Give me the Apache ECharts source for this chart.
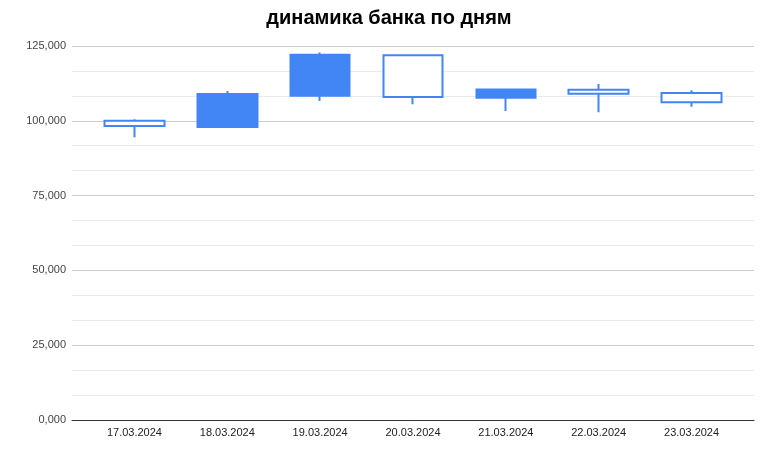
<!DOCTYPE html>
<html>
<head>
<meta charset="UTF-8">
<title>динамика банка по дням</title>
<script type="text/javascript" src="https://cdn.jsdelivr.net/npm/echarts@6/dist/echarts.min.js"></script>
<style>
  html, body { margin: 0; padding: 0; background: #fff; }
</style>
</head>
<body>
    <div id="main" style="width: 778px;height:455px;"></div>
    <script type="text/javascript">
        // data: [open, close, low, high]
        var days = ['17.03.2024', '18.03.2024', '19.03.2024', '20.03.2024', '21.03.2024', '22.03.2024', '23.03.2024'];
        var opens  = [98250, 108950, 122100, 107950, 110500, 109050, 106200];
        var closes = [100050, 97950, 108400, 121900, 107700, 110400, 109300];
        var lows   = [94500, 97700, 106600, 105500, 103300, 102850, 104700];
        var highs  = [100500, 110000, 122850, 122250, 110550, 112300, 110200];
        var yTickLabels = ['0,000', '25,000', '50,000', '75,000', '100,000', '125,000'];

        var candles = days.map(function (d, i) {
            return [opens[i], closes[i], lows[i], highs[i]];
        });

        var blue = '#4285f4';
        var myChart = echarts.init(document.getElementById('main'));
        var option = {
            animation: false,
            title: {
                text: 'динамика банка по дням',
                left: 'center',
                top: 3,
                textStyle: { fontFamily: 'Liberation Sans', fontSize: 20, fontWeight: 'bold', color: '#000' }
            },
            grid: [
                { left: 72, right: 24, top: 46, bottom: 35 },
                { left: 88, right: 40, top: 46, bottom: 35 }
            ],
            xAxis: [
                {
                    gridIndex: 0, type: 'category', data: days,
                    axisLine: { lineStyle: { color: '#333', width: 1 } },
                    axisTick: { show: false },
                    axisLabel: { show: false }
                },
                {
                    gridIndex: 1, type: 'category', data: days,
                    axisLine: { show: false },
                    axisTick: { show: false },
                    axisLabel: { fontFamily: 'Liberation Sans', fontSize: 11, color: '#222', margin: 7 }
                }
            ],
            yAxis: [
                {
                    gridIndex: 0, type: 'value', min: 0, max: 125000, interval: 25000,
                    axisLine: { show: false },
                    axisTick: { show: false },
                    axisLabel: {
                        fontFamily: 'Liberation Sans', fontSize: 11, color: '#444', margin: 6,
                        formatter: function (v) { return yTickLabels[Math.round(v / 25000)]; }
                    },
                    splitLine: { lineStyle: { color: '#cccccc', width: 1 } },
                    minorTick: { show: false, splitNumber: 3 },
                    minorSplitLine: { show: true, lineStyle: { color: '#ebebeb', width: 1 } }
                },
                {
                    gridIndex: 1, type: 'value', min: 0, max: 125000, interval: 25000,
                    axisLine: { show: false },
                    axisTick: { show: false },
                    axisLabel: { show: false },
                    splitLine: { show: false }
                }
            ],
            series: [{
                type: 'candlestick',
                xAxisIndex: 1,
                yAxisIndex: 1,
                barWidth: 60,
                data: candles,
                itemStyle: {
                    color: '#ffffff',
                    color0: blue,
                    borderColor: blue,
                    borderColor0: blue,
                    borderWidth: 2
                }
            }]
        };
        myChart.setOption(option);
    </script>
</body>
</html>
